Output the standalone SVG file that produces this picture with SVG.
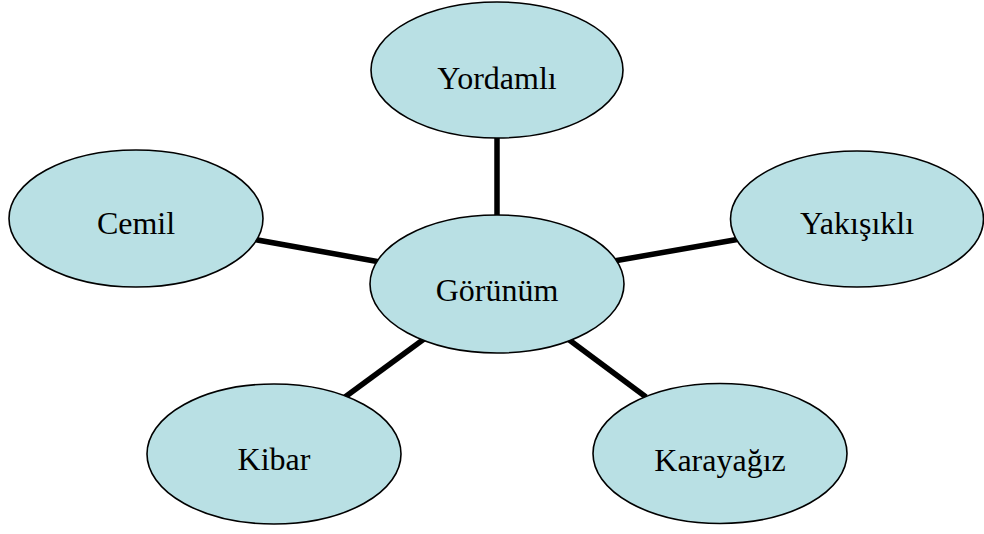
<svg xmlns="http://www.w3.org/2000/svg" width="984" height="534" viewBox="0 0 984 534">
<style>
.n ellipse{fill:#B9E0E4;stroke:#000;stroke-width:1.6}
.n text{font-family:"Liberation Serif","Times New Roman",serif;font-size:32px;fill:#000;text-anchor:middle}
#connectors line{stroke:#000;stroke-width:5.5}
</style>
<rect width="984" height="534" fill="#fff"/>
<g id="connectors">
<line x1="497" y1="136" x2="497" y2="218"/>
<line x1="252" y1="239" x2="380" y2="262"/>
<line x1="614" y1="261" x2="740" y2="239"/>
<line x1="424" y1="339" x2="345" y2="397"/>
<line x1="568" y1="339" x2="646" y2="397"/>
</g>
<g id="yordamli" class="n"><ellipse cx="497" cy="70" rx="126" ry="68"/><text x="497" y="89">Yordamlı</text></g>
<g id="cemil" class="n"><ellipse cx="136" cy="218.5" rx="127" ry="68.5"/><text x="136" y="234">Cemil</text></g>
<g id="yakisikli" class="n"><ellipse cx="857" cy="219" rx="126.5" ry="68"/><text x="857" y="234">Yakışıklı</text></g>
<g id="gorunum" class="n"><ellipse cx="497" cy="284" rx="127" ry="69"/><text x="497" y="301">Görünüm</text></g>
<g id="kibar" class="n"><ellipse cx="274" cy="454" rx="127" ry="70"/><text x="274" y="470">Kibar</text></g>
<g id="karayagiz" class="n"><ellipse cx="720" cy="453.5" rx="127" ry="70"/><text x="720" y="471">Karayağız</text></g>
</svg>
